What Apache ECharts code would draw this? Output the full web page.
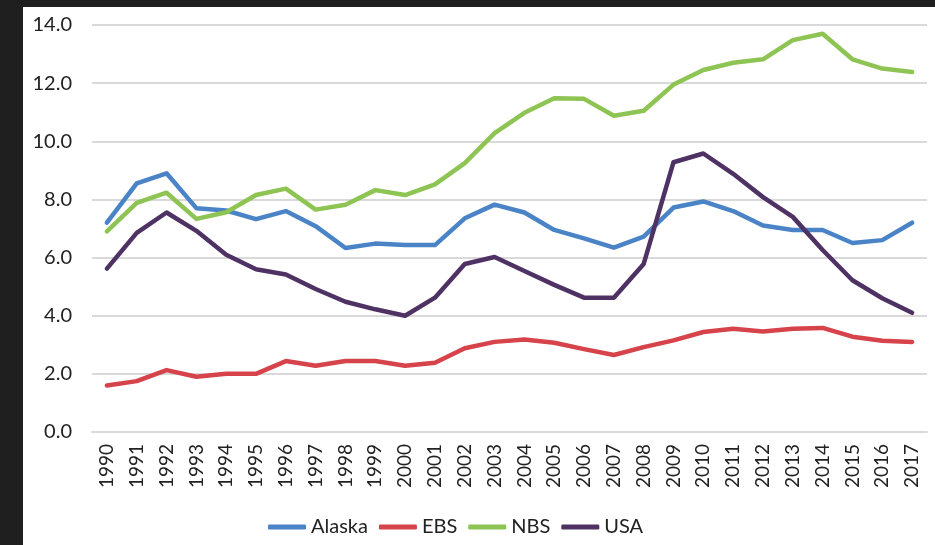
<!DOCTYPE html>
<html>
<head>
<meta charset="utf-8">
<script src="https://cdn.jsdelivr.net/npm/echarts@6/dist/echarts.min.js"></script>
<style>
  html, body { margin: 0; padding: 0; background: #1f1f1f; }
  #chart { position: absolute; left: 23px; top: 7px; width: 912px; height: 538px; background: #ffffff; }
</style>
</head>
<body>
<div id="chart"></div>
<script>
const years = ['1990','1991','1992','1993','1994','1995','1996','1997','1998','1999',
  '2000','2001','2002','2003','2004','2005','2006','2007','2008','2009',
  '2010','2011','2012','2013','2014','2015','2016','2017'];

const alaska = [7.2, 8.55, 8.9, 7.7, 7.62, 7.32, 7.6, 7.08, 6.33, 6.48,
  6.43, 6.43, 7.35, 7.82, 7.55, 6.95, 6.66, 6.34, 6.72, 7.72,
  7.93, 7.6, 7.1, 6.95, 6.95, 6.5, 6.6, 7.2];

const ebs = [1.6, 1.75, 2.13, 1.9, 2.0, 2.0, 2.44, 2.28, 2.44, 2.44,
  2.28, 2.38, 2.88, 3.1, 3.18, 3.07, 2.85, 2.65, 2.92, 3.15,
  3.44, 3.55, 3.46, 3.55, 3.58, 3.28, 3.14, 3.1];

const nbs = [6.9, 7.88, 8.23, 7.33, 7.56, 8.15, 8.37, 7.65, 7.82, 8.32,
  8.15, 8.52, 9.25, 10.28, 10.98, 11.48, 11.46, 10.88, 11.05, 11.95,
  12.45, 12.7, 12.82, 13.48, 13.7, 12.82, 12.5, 12.38];

const usa = [5.62, 6.85, 7.55, 6.92, 6.1, 5.6, 5.42, 4.92, 4.48, 4.22,
  4.0, 4.62, 5.78, 6.02, 5.54, 5.06, 4.62, 4.62, 5.78, 9.28,
  9.58, 8.88, 8.08, 7.4, 6.26, 5.22, 4.6, 4.1];

const yTicks = [0, 2, 4, 6, 8, 10, 12, 14];

const font = 'Lato, "Noto Sans", sans-serif';
const chart = echarts.init(document.getElementById('chart'));

function line(name, data, color) {
  return {
    name: name,
    type: 'line',
    data: data,
    symbol: 'none',
    lineStyle: { color: color, width: 4.5, cap: 'round', join: 'round' },
    itemStyle: { color: color },
    animation: false
  };
}

chart.setOption({
  animation: false,
  grid: { left: 69, right: 8, top: 18, bottom: 113 },
  legend: {
    left: 240,
    bottom: 3,
    icon: 'roundRect',
    itemWidth: 38,
    itemHeight: 5,
    itemGap: 11,
    textStyle: { fontFamily: font, fontSize: 20, color: '#222' },
    data: ['Alaska', 'EBS', 'NBS', 'USA']
  },
  xAxis: {
    type: 'category',
    data: years,
    boundaryGap: true,
    axisLine: { show: true, lineStyle: { color: '#d9d9d9', width: 2 } },
    axisTick: { show: false },
    axisLabel: { rotate: 90, margin: 12, interval: 0, fontFamily: font, fontSize: 19, color: '#222' }
  },
  yAxis: {
    type: 'value',
    min: yTicks[0],
    max: yTicks[yTicks.length - 1],
    interval: 2,
    axisLine: { show: false },
    axisTick: { show: false },
    axisLabel: {
      margin: 20,
      fontFamily: font,
      fontSize: 20,
      color: '#222',
      formatter: v => v.toFixed(1)
    },
    splitLine: { lineStyle: { color: '#d9d9d9', width: 2 } }
  },
  series: [
    line('Alaska', alaska, '#4a84c7'),
    line('EBS', ebs, '#d6434a'),
    line('NBS', nbs, '#8dc453'),
    line('USA', usa, '#4f3264')
  ]
});
</script>
</body>
</html>
